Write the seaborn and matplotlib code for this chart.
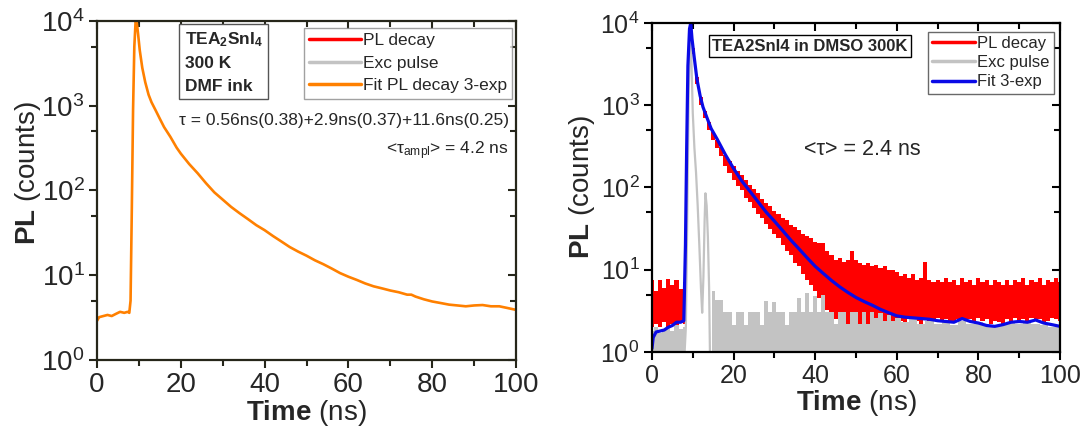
import matplotlib
matplotlib.use("Agg")
import matplotlib.pyplot as plt
import seaborn as sns
import pandas as pd
from matplotlib.lines import Line2D
from matplotlib.ticker import LogLocator, NullFormatter, MultipleLocator

# ---- left panel: TEA2SnI4, DMF ink, 300 K (3-exp fit) ----
fit_left_t = [0, 0.5, 1.5, 2.5, 3.5, 4.5, 5.5, 6.5, 7.3, 7.7, 8.0, 8.3, 8.6, 8.9, 9.2, 9.5,
              9.8, 10.2, 10.8, 11.5, 12.3, 13.0, 14.0, 15.0, 16.0, 17.5, 19, 20, 22, 24, 26,
              28, 30, 32, 34, 36, 38, 40, 42, 44, 46, 48, 50, 52, 54, 56, 58, 60, 62, 64, 66,
              68, 70, 72, 74, 75, 76, 78, 80, 82, 84, 86, 88, 90, 92, 94, 96, 98, 100]
fit_left = [2.9, 3.2, 3.3, 3.4, 3.3, 3.5, 3.7, 3.6, 3.7, 3.6, 5, 60, 900, 5000, 9800, 9500,
            7000, 4500, 2800, 1900, 1350, 1100, 880, 700, 560, 430, 320, 272, 205, 160, 122,
            95, 78, 64, 54, 46, 39, 34, 29, 25, 21.5, 19, 17, 15, 13.5, 12, 10.6, 9.6, 8.8, 8.0, 7.4,
            7.0, 6.6, 6.3, 5.9, 5.9, 5.6, 5.2, 4.9, 4.7, 4.5, 4.4, 4.3, 4.4, 4.45, 4.3, 4.3, 4.1, 3.9]

# ---- right panel: TEA2SnI4 in DMSO 300K ----
pl_t = [0, 1, 2, 3, 4, 5, 6, 7, 8, 8.5, 9, 9.5, 10, 11, 12, 13, 14, 15, 16, 17, 18, 19, 20,
        21, 22, 23, 24, 25, 26, 27, 28, 29, 30, 31, 32, 33, 34, 35, 36, 37, 38, 39, 40,
        41, 42, 43, 44, 45, 46, 47, 48, 49, 50, 51, 52, 53, 54, 55, 56, 57, 58, 59, 60,
        61, 62, 63, 64, 65, 66, 67, 68, 69, 70, 71, 72, 73, 74, 75, 76, 77, 78, 79, 80,
        81, 82, 83, 84, 85, 86, 87, 88, 89, 90, 91, 92, 93, 94, 95, 96, 97, 98, 99, 100]
pl_hi = [7.5, 5.5, 7.5, 6.0, 7.8, 6.5, 7.5, 5.8, 7.0, 300, 6000, 10000, 5000, 2200, 1250, 850, 620,
         470, 380, 310, 250, 210, 185,
         160, 140, 125, 108, 95, 85, 72, 65, 60, 52, 48, 42, 40, 35, 33, 30, 27, 26, 24, 22,
         21, 21, 17, 15, 13, 14, 12.5, 13, 17, 13, 12, 11.5, 12, 11, 11.5, 10.5, 11, 10, 10, 9.5,
         8.5, 9, 8, 9, 7.5, 8, 12.5, 7.5, 7.0, 7.5, 7.0, 8.0, 7.0, 7.5, 6.5, 8.0, 7.0, 7.5, 6.5, 8.0,
         7.0, 7.5, 6.5, 7.5, 7.0, 6.5, 7.5, 6.5, 7.5, 7.0, 8.0, 6.5, 7.5, 7.0, 8.0, 6.5, 7.5, 7.0, 8.0, 7.0]
pl_lo = [2.0, 2.2, 2.0, 2.3, 2.0, 2.2, 2.1, 2.3, 2.2, 200, 5000, 9000, 4200, 1800, 1000, 700, 500,
         380, 300, 240, 185, 150, 125,
         105, 92, 75, 66, 56, 48, 42, 36, 31, 27, 24, 20, 17, 15, 12, 11, 9, 7.5, 6.5, 5.5,
         4.5, 3.8, 3.2, 2.8, 2.5, 2.3, 2.2, 2.1, 2.0, 2.0, 2.1, 2.0, 2.2, 2.0, 2.1, 2.0, 2.2, 2.0, 2.3, 2.1,
         2.4, 2.2, 2.5, 2.3, 2.4, 2.2, 2.5, 2.3, 2.4, 2.6, 2.3, 2.5, 2.4, 2.3, 2.5, 2.6, 2.4, 2.5, 2.3, 2.6,
         2.4, 2.5, 2.2, 2.4, 2.3, 1.0, 2.5, 2.3, 2.6, 2.4, 2.5, 2.3, 2.6, 2.4, 2.5, 2.3, 2.4, 2.6, 2.5, 2.4]

exc_base_t = [0, 1, 2, 3, 4, 5, 6, 7, 8, 8.4, 14.2, 15, 16, 17, 18, 19, 20, 21, 22, 23, 24, 25,
              26, 27, 28, 29, 30, 31, 32, 33, 34, 35, 36, 37, 38, 39, 40, 41, 42, 43, 44, 45,
              46, 47, 48, 49, 50, 51, 52, 53, 54, 55, 56, 57, 58, 59, 60, 62, 64, 66, 68, 70,
              72, 74, 76, 78, 80, 82, 84, 86, 88, 90, 92, 94, 96, 98, 100]
exc_base = [1.8, 2.0, 1.7, 1.9, 2.0, 1.8, 2.1, 1.9, 2.0, 1.0, 1.0, 5.5, 4.3, 4.3, 3.1, 3.1, 2.1, 3.1,
            3.1, 2.1, 3.1, 3.1, 3.1, 2.1, 4.2, 3.1, 4.0, 3.1, 3.1, 2.1, 3.1, 3.1, 4.5, 3.1, 5.2,
            3.1, 4.8, 3.1, 5.0, 3.1, 3.1, 2.2, 3.1, 3.1, 2.2, 3.1, 3.1, 2.2, 3.1, 2.2, 3.1, 2.6,
            3.0, 2.4, 2.8, 2.4, 2.6, 2.3, 2.5, 2.2, 2.4, 2.2, 2.3, 2.1, 2.4, 2.2, 2.3, 2.1, 2.0,
            2.2, 2.3, 2.2, 2.3, 2.2, 2.1, 2.0, 2.0]
exc_pulse_t = [8.0, 8.3, 8.6, 9.0, 9.3, 9.5, 9.7, 10.0, 10.4, 10.8, 11.2, 11.6, 12.0, 12.3,
               12.6, 12.9, 13.1, 13.4, 13.7, 14.0, 14.2]
exc_pulse = [1.0, 2, 30, 1500, 6000, 7000, 3000, 800, 300, 150, 60, 20, 6, 3, 8, 40, 85, 60, 25, 6, 1.0]

fit_right_t = [0, 0.3, 1, 2, 3, 4, 5, 6, 7, 7.8, 8.2, 8.5, 8.8, 9.2, 9.5, 9.8, 10.3, 11, 11.8,
               12.5, 13.5, 14.5, 16, 18, 20, 22, 24, 26, 28, 30, 32, 34, 36, 38, 40, 42, 44, 46,
               48, 50, 52, 54, 56, 58, 60, 62, 64, 66, 68, 70, 72, 74, 76, 78, 80, 82, 84, 86,
               88, 90, 92, 94, 96, 98, 100]
fit_right = [1.1, 1.5, 1.75, 1.8, 1.85, 2.0, 2.1, 2.3, 2.3, 2.4, 20, 300, 3000, 8500, 10000, 6500,
             4000, 2100, 1300, 950, 700, 520, 385, 250, 170, 120, 90, 67, 50, 39, 30, 23, 18, 14,
             11, 9, 7.4, 6.2, 5.3, 4.6, 4.1, 3.7, 3.3, 3.0, 2.75, 2.65, 2.6, 2.55, 2.5, 2.4, 2.35,
             2.3, 2.55, 2.35, 2.25, 2.1, 2.05, 2.15, 2.3, 2.35, 2.3, 2.45, 2.25, 2.15, 2.05]

RED = "#ff0000"
GRAY = "#c3c3c3"
ORANGE = "#ff8000"
BLUE = "#0a0ae6"

sns.set_theme(style="ticks")
plt.rcParams["font.family"] = ["Liberation Sans", "DejaVu Sans"]
plt.rcParams["mathtext.fontset"] = "custom"
plt.rcParams["mathtext.rm"] = "Liberation Sans"
plt.rcParams["mathtext.it"] = "Liberation Sans:italic"
plt.rcParams["mathtext.bf"] = "Liberation Sans:bold"


def style_axes(ax, spine_color, tick_size):
    ax.set_yscale("log")
    ax.set_xlim(0, 100)
    ax.set_ylim(1, 1e4)
    ax.xaxis.set_major_locator(MultipleLocator(20))
    ax.xaxis.set_minor_locator(MultipleLocator(10))
    ax.yaxis.set_major_locator(LogLocator(base=10))
    ax.yaxis.set_minor_locator(LogLocator(base=10, subs=[5]))
    ax.yaxis.set_minor_formatter(NullFormatter())
    for s in ax.spines.values():
        s.set_color(spine_color)
        s.set_linewidth(1.6)
        s.set_visible(True)
    ax.tick_params(which="major", direction="out", length=6, width=1.5, color=spine_color,
                   labelsize=tick_size, pad=3)
    ax.tick_params(which="minor", direction="out", length=4, width=1.5, color=spine_color)
    top = ax.secondary_xaxis("top")
    top.xaxis.set_major_locator(MultipleLocator(20))
    top.xaxis.set_minor_locator(MultipleLocator(10))
    top.tick_params(which="both", direction="in", labeltop=False, color=spine_color, width=1.5)
    top.tick_params(which="major", length=6)
    top.tick_params(which="minor", length=4)
    top.spines["top"].set_visible(False)
    right = ax.secondary_yaxis("right")
    right.yaxis.set_major_locator(LogLocator(base=10))
    right.yaxis.set_minor_locator(LogLocator(base=10, subs=[5]))
    right.yaxis.set_major_formatter(NullFormatter())
    right.yaxis.set_minor_formatter(NullFormatter())
    right.tick_params(which="both", direction="in", color=spine_color, width=1.5)
    right.tick_params(which="major", length=6)
    right.tick_params(which="minor", length=4)
    right.spines["right"].set_visible(False)
    ax.set_xlabel(r"$\mathbf{Time}$ (ns)", fontsize=20, labelpad=0)
    ax.set_ylabel(r"$\mathbf{PL}$ (counts)", fontsize=20, labelpad=2)


fig = plt.figure(figsize=(10.89, 4.32), dpi=100)
ax1 = fig.add_axes([0.0891, 0.1667, 0.3848, 0.7847])
ax2 = fig.add_axes([0.5987, 0.1852, 0.3747, 0.7616])

# left panel
df_left = pd.DataFrame({"t": fit_left_t, "PL": fit_left})
sns.lineplot(data=df_left, x="t", y="PL", ax=ax1, color=ORANGE, lw=1.9, sort=False)
style_axes(ax1, "#26261a", 20)
ax1.yaxis.set_label_coords(-0.13, 0.55)

handles = [Line2D([], [], color=RED, lw=2.5), Line2D([], [], color=GRAY, lw=2.5),
           Line2D([], [], color=ORANGE, lw=2.5)]
leg = ax1.legend(handles, ["PL decay", "Exc pulse", "Fit PL decay 3-exp"], loc="upper left",
                 bbox_to_anchor=(0.494, 0.979), borderaxespad=0, fontsize=12.5, frameon=True,
                 fancybox=False, handlelength=3.0, handletextpad=0.1, labelspacing=0.42,
                 borderpad=0.3)
leg.get_frame().set_edgecolor("#8a8a8a")
leg.get_frame().set_linewidth(1.0)

ax1.text(0.209, 0.972, "$\\mathbf{TEA_2SnI_4}$\n300 K\nDMF ink", transform=ax1.transAxes,
         ha="left", va="top", fontsize=12.5, fontweight="bold", linespacing=1.6,
         bbox=dict(boxstyle="square,pad=0.3", fc="white", ec="#555555", lw=1.0))
ax1.text(0.983, 0.705, "τ = 0.56ns(0.38)+2.9ns(0.37)+11.6ns(0.25)", transform=ax1.transAxes,
         ha="right", va="center", fontsize=12.5)
ax1.text(0.983, 0.617, r"<τ$_{\mathrm{ampl}}$> = 4.2 ns", transform=ax1.transAxes,
         ha="right", va="center", fontsize=12.5)

# right panel
ax2.fill_between(pl_t, pl_lo, pl_hi, step="mid", color=RED, lw=0)
ax2.fill_between(exc_base_t, 1, exc_base, step="mid", color=GRAY, lw=0)
df_pulse = pd.DataFrame({"t": exc_pulse_t, "PL": exc_pulse})
sns.lineplot(data=df_pulse, x="t", y="PL", ax=ax2, color=GRAY, lw=1.6, sort=False)
df_fit = pd.DataFrame({"t": fit_right_t, "PL": fit_right})
sns.lineplot(data=df_fit, x="t", y="PL", ax=ax2, color=BLUE, lw=2.3, sort=False)
style_axes(ax2, "black", 18)

handles = [Line2D([], [], color=RED, lw=2.5), Line2D([], [], color=GRAY, lw=2.5),
           Line2D([], [], color=BLUE, lw=2.5)]
leg = ax2.legend(handles, ["PL decay", "Exc pulse", "Fit 3-exp"], loc="upper left",
                 bbox_to_anchor=(0.676, 0.973), borderaxespad=0, fontsize=12, frameon=True,
                 fancybox=False, handlelength=2.6, handletextpad=0.1, labelspacing=0.25,
                 borderpad=0.25)
leg.get_frame().set_edgecolor("#444444")
leg.get_frame().set_linewidth(1.0)

ax2.text(0.387, 0.930, "TEA2SnI4 in DMSO 300K", transform=ax2.transAxes, ha="center",
         va="center", fontsize=12, fontweight="bold",
         bbox=dict(boxstyle="square,pad=0.2", fc="white", ec="black", lw=1.0))
ax2.text(0.515, 0.614, "<τ> = 2.4 ns", transform=ax2.transAxes, ha="center", va="center",
         fontsize=15.5)

fig.savefig("out.png", dpi=100)
